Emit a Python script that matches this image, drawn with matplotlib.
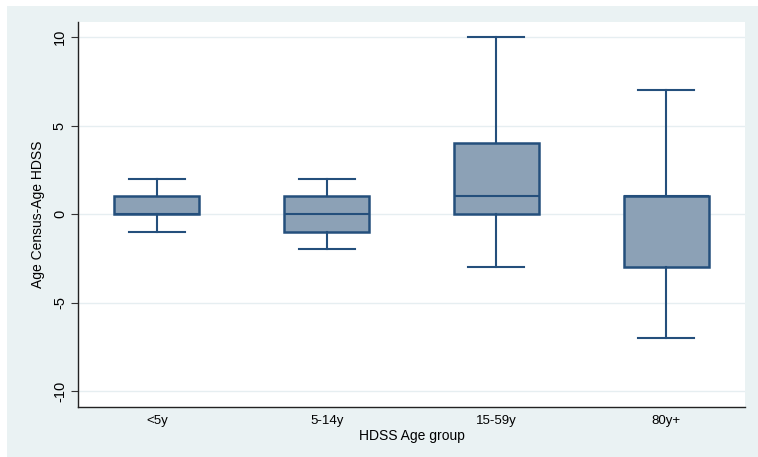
import matplotlib
matplotlib.use("Agg")
import matplotlib.pyplot as plt
from matplotlib.patches import Rectangle

plt.rcParams["font.family"] = ["Liberation Sans", "DejaVu Sans"]

categories = ["<5y", "5-14y", "15-59y", "80y+"]
whislo = [-1, -2, -3, -7]
q1 = [0, -1, 0, -3]
med = [0, 0, 1, 1]
q3 = [1, 1, 4, 1]
whishi = [2, 2, 10, 7]
yticks = [-10, -5, 0, 5, 10]

W, H = 758, 457
fig = plt.figure(figsize=(W / 100, H / 100), dpi=100, facecolor="white")
bg = Rectangle((7 / W, 0), 1 - 7 / W, 1 - 6 / H, transform=fig.transFigure,
               facecolor="#EAF2F3", edgecolor="none", zorder=-10)
fig.add_artist(bg)
ax = fig.add_axes([78 / W, 1 - 407 / H, (745 - 78) / W, (407 - 22) / H])
ax.set_zorder(1)
ax.set_facecolor("white")

stats = []
for i, c in enumerate(categories):
    stats.append(dict(label=c, whislo=whislo[i], q1=q1[i], med=med[i], q3=q3[i],
                      whishi=whishi[i], fliers=[]))

edge = "#244F7C"
ax.bxp(stats, positions=range(1, len(categories) + 1), widths=0.5, patch_artist=True,
       showfliers=False,
       boxprops=dict(facecolor="#8CA1B6", edgecolor=edge, linewidth=1.8),
       medianprops=dict(color=edge, linewidth=1.5),
       whiskerprops=dict(color=edge, linewidth=1.5),
       capprops=dict(color=edge, linewidth=1.5),
       capwidths=0.33, zorder=3)

ax.set_xlim(0.535, 4.465)
ax.set_ylim(-10.9, 10.85)
ax.set_yticks(yticks)
ax.set_yticklabels([str(t) for t in yticks], rotation=90, va="center", fontsize=10.5)
ax.set_xticks(range(1, len(categories) + 1))
ax.set_xticklabels(categories, fontsize=9.5)
ax.tick_params(axis="x", length=0, pad=6)
ax.tick_params(axis="y", length=5, color="#333333", width=0.8, pad=3)
ax.grid(axis="y", color="#E6EEF1", linewidth=1.0, zorder=0)
ax.set_axisbelow(True)
for s in ["top", "right"]:
    ax.spines[s].set_visible(False)
for s in ["left", "bottom"]:
    ax.spines[s].set_color("#222222")
    ax.spines[s].set_linewidth(1.0)
ax.set_xlabel("HDSS Age group", fontsize=10, labelpad=1)
ax.set_ylabel("Age Census-Age HDSS", fontsize=10, labelpad=6)

fig.savefig("out.png", dpi=100, facecolor="white")
